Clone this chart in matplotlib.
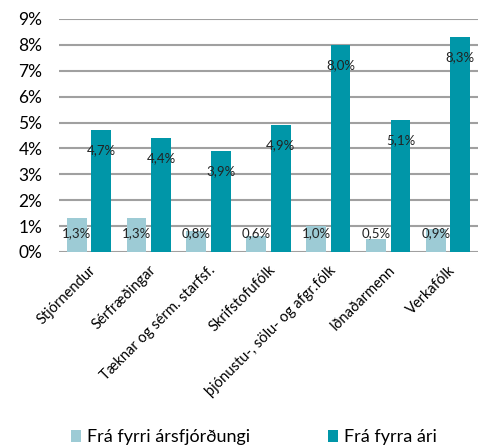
import numpy as np
import matplotlib.pyplot as plt

plt.rcParams['font.family'] = ['Lato', 'DejaVu Sans']

flokkar = ["Stjórnendur", "Sérfræðingar", "Tæknar og sérm. starfsf.", "Skrifstofufólk",
           "þjónustu-, sölu- og afgr.fólk", "Iðnaðarmenn", "Verkafólk"]
fra_arsfj = [1.3, 1.3, 0.8, 0.6, 1.0, 0.5, 0.9]
fra_ari = [4.7, 4.4, 3.9, 4.9, 8.0, 5.1, 8.3]
merki = ["Frá fyrri ársfjórðungi", "Frá fyrra ári"]

ljos = "#9dcbd5"
dokk = "#0096a8"

fig = plt.figure(figsize=(4.86, 4.46), dpi=100)
ax = fig.add_axes([0.1214, 0.435, 0.862, 0.5224])

x = np.arange(len(flokkar))
b = 0.33
s1 = ax.bar(x - 0.205, fra_arsfj, b, color=ljos, label=merki[0], zorder=3)
s2 = ax.bar(x + 0.205, fra_ari, b, color=dokk, label=merki[1], zorder=3)

# ljósu merkin sitja öll í sömu hæð, dökku rétt undir toppi
for r, v in zip(s1, fra_arsfj):
    ax.text(r.get_x() + r.get_width() / 2, 0.73, f"{v:.1f}%".replace(".", ","),
            ha="center", va="center", fontsize=9.5, color="#222222", zorder=4)
for r, v in zip(s2, fra_ari):
    ax.text(r.get_x() + r.get_width() / 2, v - 0.78, f"{v:.1f}%".replace(".", ","),
            ha="center", va="center", fontsize=9.5, color="#222222", zorder=4)

ax.set_xlim(-0.5, len(flokkar) - 0.5)
ax.set_ylim(0, 9)
ax.set_yticks(range(10))
ax.set_yticklabels([f"{i}%" for i in range(10)], fontsize=12.5)
ax.yaxis.grid(True, color="#a0a0a0", linewidth=1.5, zorder=0)
ax.set_xticks(x)
ax.set_xticklabels(flokkar, rotation=45, ha="right", rotation_mode="anchor", fontsize=10.5)
ax.tick_params(axis="y", length=0, pad=12)
ax.tick_params(axis="x", length=0, pad=8)
for sp in ax.spines.values():
    sp.set_visible(False)

fig.legend(handles=[s1, s2], loc="lower center", bbox_to_anchor=(0.522, -0.035), ncol=2,
           frameon=False, fontsize=13, handlelength=0.6, handleheight=0.6,
           handletextpad=0.3, columnspacing=4.3)

fig.savefig("out.png", dpi=100)
